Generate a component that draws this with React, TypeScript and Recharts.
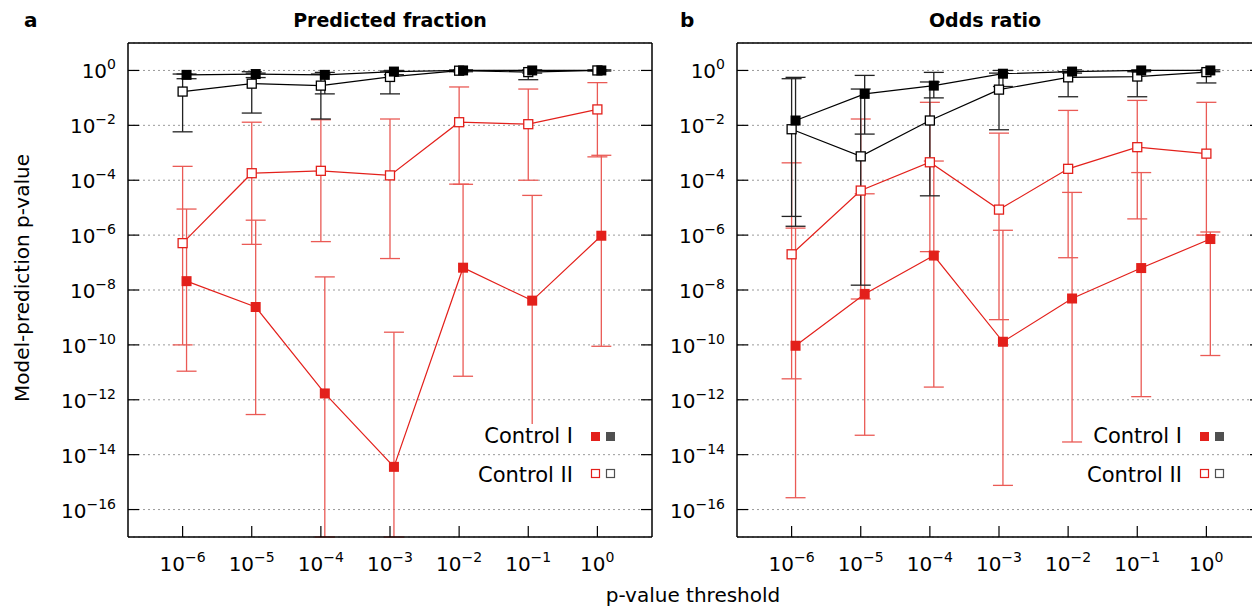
import React from 'react';
import { LineChart, Line, XAxis, YAxis, CartesianGrid, ErrorBar } from 'recharts';

// p-value thresholds (x categories) and y ticks
const thresholds = [1e-6, 1e-5, 1e-4, 1e-3, 1e-2, 1e-1, 1];
const yTicks = [1, 1e-2, 1e-4, 1e-6, 1e-8, 1e-10, 1e-12, 1e-14, 1e-16];

// panel a: predicted fraction
const fracC1Red = [2.1e-8, 2.4e-9, 1.7e-12, 3.6e-15, 6.5e-8, 4.1e-9, 9.5e-7];
const fracC1RedLo = [1.1e-11, 2.9e-13, 1e-17, 1e-17, 7.2e-12, 4e-14, 8.9e-11];
const fracC1RedHi = [8.9e-6, 3.5e-6, 3.0e-8, 2.9e-10, 7.1e-5, 2.8e-5, 8.1e-4];
const fracC2Red = [5.1e-7, 1.8e-4, 2.2e-4, 1.5e-4, 1.3e-2, 1.1e-2, 3.8e-2];
const fracC2RedLo = [1e-10, 4.6e-7, 5.8e-7, 1.4e-7, 7.2e-5, 1e-4, 7.1e-4];
const fracC2RedHi = [3.2e-4, 1.3e-2, 1.6e-2, 1.7e-2, 0.25, 0.21, 0.36];
const fracC1Black = [0.69, 0.74, 0.69, 0.91, 1.0, 1.0, 1.0];
const fracC1BlackLo = [0.5, 0.55, 0.14, 0.7, 0.9, 0.8, 0.95];
const fracC1BlackHi = [0.74, 0.8, 0.85, 1.0, 1.05, 1.05, 1.05];
const fracC2Black = [0.17, 0.33, 0.28, 0.58, 0.98, 0.87, 1.0];
const fracC2BlackLo = [5.8e-3, 2.8e-2, 1.7e-2, 0.14, 0.9, 0.46, 0.95];
const fracC2BlackHi = [0.74, 0.9, 0.74, 0.95, 1.05, 1.0, 1.05];

// panel b: odds ratio
const oddsC1Red = [9.3e-11, 7.2e-9, 1.8e-7, 1.3e-10, 4.9e-9, 6.3e-8, 7.2e-7];
const oddsC1RedLo = [2.7e-16, 5.1e-14, 2.9e-12, 7.6e-16, 2.9e-14, 1.3e-12, 4.1e-11];
const oddsC1RedHi = [1.8e-6, 3.2e-5, 5e-4, 1.5e-6, 3.6e-5, 1.9e-4, 1.3e-6];
const oddsC2Red = [2e-7, 4.2e-5, 4.5e-4, 8.5e-6, 2.6e-4, 1.6e-3, 9.3e-4];
const oddsC2RedLo = [5.8e-12, 4.7e-9, 2.5e-7, 8.3e-10, 1.5e-7, 3.9e-6, 1.0e-6];
const oddsC2RedHi = [4.3e-4, 1.7e-2, 6.9e-2, 5.2e-3, 3.5e-2, 8.1e-2, 6.9e-2];
const oddsC1Black = [1.5e-2, 0.14, 0.28, 0.76, 0.91, 1.0, 1.0];
const oddsC1BlackLo = [2.1e-6, 4.8e-3, 0.1, 0.26, 0.8, 0.9, 0.9];
const oddsC1BlackHi = [0.56, 0.66, 0.85, 1.0, 1.05, 1.05, 1.05];
const oddsC2Black = [7.2e-3, 7.4e-4, 1.5e-2, 0.2, 0.56, 0.6, 0.87];
const oddsC2BlackLo = [4.8e-6, 1.5e-8, 2.7e-5, 6.9e-3, 0.11, 0.11, 0.35];
const oddsC2BlackHi = [0.5, 0.21, 0.38, 0.8, 0.9, 0.9, 1.0];

const RED = '#e3201b';
const RED_BAR = '#ea5a55';
const BLACK = '#000';
const FONT = '"DejaVu Sans", sans-serif';

const X_DOMAIN = [Math.pow(10, -6.79), Math.pow(10, 0.79)];
const FILLED_SHIFT = Math.pow(10, 0.057);

const rows = (vals: number[], lo: number[], hi: number[], shift = 1) =>
  thresholds.map((t, i) => ({ x: t * shift, y: vals[i], err: [vals[i] - lo[i], hi[i] - vals[i]] }));

const filledSquare = (color: string) => (p: any) =>
  p.cx == null ? <g key={p.index} /> : (
    <rect key={p.index} x={p.cx - 5} y={p.cy - 5} width={10} height={10} fill={color} />
  );
const openSquare = (color: string) => (p: any) =>
  p.cx == null ? <g key={p.index} /> : (
    <rect key={p.index} x={p.cx - 4.5} y={p.cy - 4.5} width={9} height={9} fill="#fff" stroke={color} strokeWidth={1.3} />
  );

const Sup = ({ x, y, exp, size }: { x: number; y: number; exp: number; size: number }) => (
  <text x={x} y={y} fontFamily={FONT} fontSize={size} fill="#000" textAnchor="end">
    <tspan>10</tspan>
    <tspan dy={-9} fontSize={size * 0.7}>{exp === 0 ? '0' : '\u2212' + Math.abs(exp)}</tspan>
  </text>
);

const XTick = (p: any) => {
  const exp = Math.round(Math.log10(p.payload.value));
  const w = exp === 0 ? 34 : 46;
  return (
    <g>
      <line x1={p.x} x2={p.x} y1={p.y} y2={p.y - 11} stroke="#000" strokeWidth={1.2} />
      <Sup x={p.x + w / 2} y={p.y + 34} exp={exp} size={20} />
    </g>
  );
};

const YTickLeft = (p: any) => {
  const exp = Math.round(Math.log10(p.payload.value));
  return (
    <g>
      <line x1={p.x} x2={p.x + 11} y1={p.y} y2={p.y} stroke="#000" strokeWidth={1.2} />
      <Sup x={p.x - 12} y={p.y + 8} exp={exp} size={20} />
    </g>
  );
};

const YTickRight = (p: any) => (
  <line x1={p.x} x2={p.x - 11} y1={p.y} y2={p.y} stroke="#000" strokeWidth={1.2} />
);

type Series = { data: any[]; color: string; bar: string; filled: boolean };

function Panel({ left, series }: { left: number; series: Series[] }) {
  return (
    <div style={{ position: 'absolute', left, top: 0, width: 660, height: 607 }}>
      <LineChart width={660} height={607} margin={{ top: 42, right: 7, bottom: 30, left: 68 }}>
        <CartesianGrid xAxisId="b" yAxisId="l" vertical={false} stroke="#9a9a9a" strokeDasharray="2 3" />
        <XAxis xAxisId="b" dataKey="x" type="number" scale="log" domain={X_DOMAIN} ticks={thresholds}
          allowDataOverflow tick={<XTick />} tickSize={0} tickMargin={0} height={40}
          axisLine={{ stroke: '#000', strokeWidth: 1.5 }} tickLine={false} interval={0} />
        <XAxis xAxisId="t" orientation="top" dataKey="x" type="number" scale="log" domain={X_DOMAIN}
          allowDataOverflow tick={false} tickLine={false} height={1}
          axisLine={{ stroke: '#000', strokeWidth: 1.5 }} />
        <YAxis yAxisId="l" type="number" scale="log" domain={[1e-17, 10]} ticks={yTicks} allowDataOverflow
          width={60} tick={<YTickLeft />} tickSize={0} tickMargin={0} tickLine={false} interval={0}
          axisLine={{ stroke: '#000', strokeWidth: 1.5 }} />
        <YAxis yAxisId="r" orientation="right" type="number" scale="log" domain={[1e-17, 10]} ticks={yTicks}
          allowDataOverflow width={1} tick={<YTickRight />} tickSize={0} tickMargin={0} tickLine={false}
          interval={0} axisLine={{ stroke: '#000', strokeWidth: 1.5 }} />
        {series.map((s, i) => (
          <Line key={i} xAxisId="b" yAxisId="l" data={s.data} dataKey="y" stroke={s.color} strokeWidth={1.2}
            dot={s.filled ? filledSquare(s.color) : openSquare(s.color)} activeDot={false}
            isAnimationActive={false} legendType="none">
            <ErrorBar dataKey="err" direction="y" width={10} stroke={s.bar} strokeWidth={1.3} />
          </Line>
        ))}
      </LineChart>
    </div>
  );
}

const panelA: Series[] = [
  { data: rows(fracC2Red, fracC2RedLo, fracC2RedHi), color: RED, bar: RED_BAR, filled: false },
  { data: rows(fracC1Red, fracC1RedLo, fracC1RedHi, FILLED_SHIFT), color: RED, bar: RED_BAR, filled: true },
  { data: rows(fracC2Black, fracC2BlackLo, fracC2BlackHi), color: BLACK, bar: '#222', filled: false },
  { data: rows(fracC1Black, fracC1BlackLo, fracC1BlackHi, FILLED_SHIFT), color: BLACK, bar: '#222', filled: true },
];

const panelB: Series[] = [
  { data: rows(oddsC2Red, oddsC2RedLo, oddsC2RedHi), color: RED, bar: RED_BAR, filled: false },
  { data: rows(oddsC1Red, oddsC1RedLo, oddsC1RedHi, FILLED_SHIFT), color: RED, bar: RED_BAR, filled: true },
  { data: rows(oddsC2Black, oddsC2BlackLo, oddsC2BlackHi), color: BLACK, bar: '#222', filled: false },
  { data: rows(oddsC1Black, oddsC1BlackLo, oddsC1BlackHi, FILLED_SHIFT), color: BLACK, bar: '#222', filled: true },
];

const LegendBox = ({ dx }: { dx: number }) => (
  <g transform={`translate(${dx},0)`}>
    <rect x={478} y={424} width={142} height={24} fill="#fff" />
    <rect x={470} y={462} width={150} height={24} fill="#fff" />
    <text x={573} y={443} textAnchor="end" fontFamily={FONT} fontSize={21}>Control I</text>
    <rect x={591} y={432} width={9} height={9} fill={RED} />
    <rect x={606} y={432} width={9} height={9} fill="#505050" />
    <text x={573} y={482} textAnchor="end" fontFamily={FONT} fontSize={21}>Control II</text>
    <rect x={591.5} y={469.5} width={8} height={8} fill="#fff" stroke={RED} strokeWidth={1.2} />
    <rect x={606.5} y={469.5} width={8} height={8} fill="#fff" stroke="#505050" strokeWidth={1.2} />
  </g>
);

export default function App() {
  return (
    <div style={{ position: 'absolute', left: 0, top: 0, width: 1252, height: 607, overflow: 'hidden', background: '#fff' }}>
      <Panel left={0} series={panelA} />
      <Panel left={609} series={panelB} />
      <svg width={1252} height={607} style={{ position: 'absolute', left: 0, top: 0, pointerEvents: 'none' }}>
        <LegendBox dx={0} />
        <LegendBox dx={609} />
        <text x={24} y={27} fontFamily={FONT} fontWeight="bold" fontSize={20}>a</text>
        <text x={680} y={27} fontFamily={FONT} fontWeight="bold" fontSize={20}>b</text>
        <text x={390} y={27} textAnchor="middle" fontFamily={FONT} fontWeight="bold" fontSize={19}>Predicted fraction</text>
        <text x={985} y={27} textAnchor="middle" fontFamily={FONT} fontWeight="bold" fontSize={19}>Odds ratio</text>
        <text x={0} y={0} transform="translate(29,278) rotate(-90)" textAnchor="middle" fontFamily={FONT} fontSize={20}>
          Model-prediction p-value
        </text>
        <text x={693} y={602} textAnchor="middle" fontFamily={FONT} fontSize={20}>p-value threshold</text>
      </svg>
    </div>
  );
}
